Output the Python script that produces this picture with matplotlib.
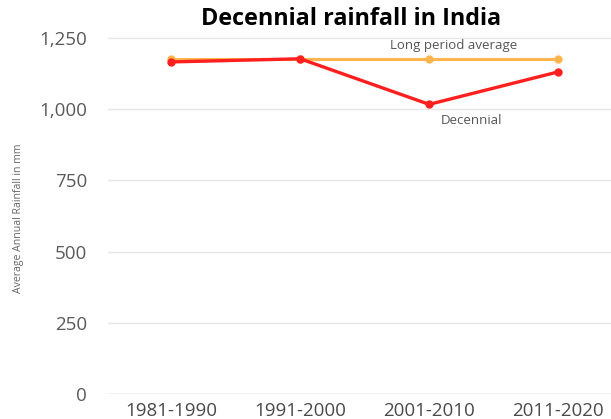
import matplotlib.pyplot as plt

plt.rcParams['font.family'] = ['Open Sans', 'DejaVu Sans']

decades = ['1981-1990', '1991-2000', '2001-2010', '2011-2020']
decennial = [1166, 1177, 1017, 1131]
long_period_avg = [1176, 1176, 1176, 1176]
yticks = [0, 250, 500, 750, 1000, 1250]

red = '#ff1f1f'
orange = '#ffb54f'

fig = plt.figure(figsize=(6.11, 4.19), dpi=100)
ax = fig.add_axes([108 / 611, 25 / 419, 1 - 108 / 611, 369 / 419])

x = range(len(decades))
ax.plot(x, long_period_avg, color=orange, lw=2.2, marker='o', ms=5, zorder=3)
ax.plot(x, decennial, color=red, lw=2.4, marker='o', ms=5, zorder=4)

ax.text(2.19, 1222, 'Long period average', fontsize=9.5, color='#555555', ha='center', va='center')
ax.text(2.33, 962, 'Decennial', fontsize=9.5, color='#555555', ha='center', va='center')

ax.set_xlim(-0.49, 3.41)
ax.set_ylim(0, 1250 * 369 / 356)
ax.set_yticks(yticks)
ax.set_yticklabels([f'{v:,}' for v in yticks])
ax.set_xticks(list(x))
ax.set_xticklabels(decades)
ax.tick_params(axis='y', length=0, pad=15, labelsize=13.5, labelcolor='#5a5a5a')
ax.tick_params(axis='x', length=0, pad=6, labelsize=13.5, labelcolor='#4a4a4a')
ax.grid(axis='y', color='#e6e6e6', lw=1)
for s in ax.spines.values():
    s.set_visible(False)
ax.axhline(0, color='#cccccc', lw=1)

fig.text(19 / 611, 1 - 218 / 419, 'Average Annual Rainfall in mm', rotation=90, fontsize=7.6,
         color='#666666', ha='center', va='center')
fig.text(351 / 611, 1 - 19 / 419, 'Decennial rainfall in India', fontsize=16.8, fontweight='bold',
         ha='center', va='center', color='black')

fig.savefig('out.png', dpi=100)
